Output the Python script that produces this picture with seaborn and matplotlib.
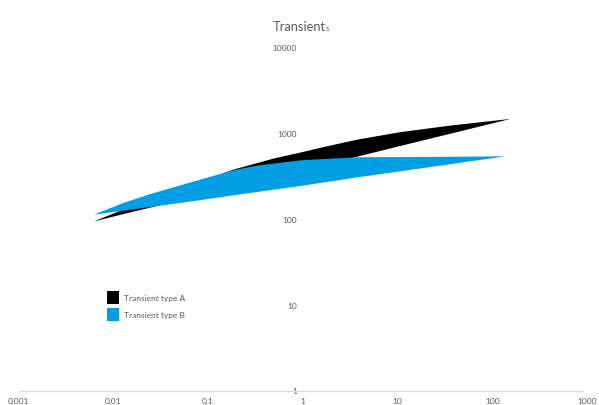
import numpy as np
import matplotlib
matplotlib.use("Agg")
import matplotlib.pyplot as plt
from matplotlib.patches import Patch
from matplotlib.ticker import FixedLocator, FixedFormatter, NullLocator
import seaborn as sns

# Transient type A: envelope (upper / lower bound) over duration
a_x = [0.0062, 0.0128, 0.0247, 0.083, 0.185, 0.49, 0.94, 1.65, 3.77, 10.7, 36, 155]
a_upper = [94, 130, 174, 275, 379, 509, 598, 693, 847, 1035, 1233, 1475]
a_lower = [94, 115, 137, 191, 237, 308, 369, 429, 537, 714, 992, 1475]

# Transient type B
b_x = [0.0062, 0.0128, 0.0247, 0.083, 0.185, 0.33, 0.94, 3.77, 10.7, 36, 137]
b_upper = [113, 155, 197, 290, 372, 422, 486, 527, 530, 534, 541]
b_lower = [113, 126, 139, 167, 190, 208, 244, 308, 362, 438, 541]

series_names = ["Transient type A", "Transient type B"]
series_colors = ["#000000", "#009FE3"]

x_ticks = [0.001, 0.01, 0.1, 1, 10, 100, 1000]
x_tick_labels = ["0,001", "0,01", "0,1", "1", "10", "100", "1000"]
y_ticks = [1, 10, 100, 1000, 10000]
y_tick_labels = ["1", "10", "100", "1000", "10000"]

sns.set_theme(style="white")
plt.rcParams["font.family"] = ["Lato", "DejaVu Sans"]

W, H = 599, 406
fig = plt.figure(figsize=(W / 100, H / 100), dpi=100)
ax = fig.add_axes([18 / W, 14.5 / H, 569 / W, 343.5 / H])
ax.set_xscale("log")
ax.set_yscale("log")
ax.set_xlim(0.001, 1000)
ax.set_ylim(1, 10000)

ax.fill_between(a_x, a_lower, a_upper, color=series_colors[0], linewidth=0)
ax.fill_between(b_x, b_lower, b_upper, color=series_colors[1], linewidth=0)

label_color = "#595959"
ax.xaxis.set_major_locator(FixedLocator(x_ticks))
ax.xaxis.set_major_formatter(FixedFormatter(x_tick_labels))
ax.yaxis.set_major_locator(FixedLocator(y_ticks))
ax.yaxis.set_major_formatter(FixedFormatter(y_tick_labels))
ax.xaxis.set_minor_locator(NullLocator())
ax.yaxis.set_minor_locator(NullLocator())
ax.tick_params(axis="x", length=0, pad=4.5, labelsize=6, labelcolor=label_color)
ax.tick_params(axis="y", length=0, pad=4.0, labelsize=6, labelcolor=label_color)

for side in ["top", "right"]:
    ax.spines[side].set_visible(False)
ax.spines["left"].set_position(("data", 1))
ax.spines["left"].set_visible(False)
ax.spines["bottom"].set_color("#d9d9d9")
ax.spines["bottom"].set_linewidth(0.9)
ax.spines["bottom"].set_bounds(10 ** -2.979, 10 ** 2.96)
ax.grid(False)
ax.set_facecolor("white")

handles = [Patch(facecolor=c, edgecolor="none") for c in series_colors]
fig.legend(handles, series_names, loc="upper left",
           bbox_to_anchor=(107 / W, 1 - 292 / H), bbox_transform=fig.transFigure,
           frameon=False, fontsize=6, labelcolor=label_color,
           handlelength=1.45, handleheight=2.0, handletextpad=0.65,
           labelspacing=0.45, borderpad=0, borderaxespad=0)

# Title: "Transient" followed by a small "s"
title = fig.text(273 / W, 1 - 31 / H, "Transient", fontsize=9.3,
                 color=label_color, ha="left", va="baseline")
fig.canvas.draw()
bb = title.get_window_extent()
fig.text((bb.x1 - 0.5) / W, 1 - 31 / H, "s", fontsize=5.5,
         color=label_color, ha="left", va="baseline")

fig.savefig("out.png", dpi=100, facecolor="white")
